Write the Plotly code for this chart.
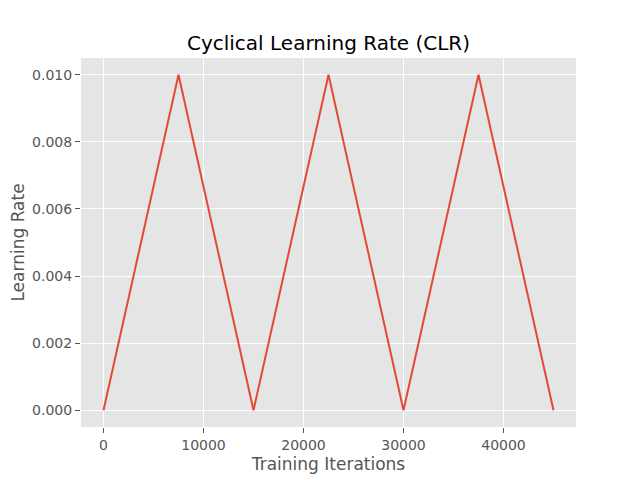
# triangular cyclical learning rate schedule

import plotly.graph_objects as go

iterations = [0, 7500, 15000, 22500, 30000, 37500, 45000]
learning_rate = [0.0, 0.01, 0.0, 0.01, 0.0, 0.01, 0.0]

x_ticks = [0, 10000, 20000, 30000, 40000]
y_ticks = [0.000, 0.002, 0.004, 0.006, 0.008, 0.010]

font = "DejaVu Sans"
grey = "#555555"

fig = go.Figure()
fig.add_trace(go.Scatter(
    x=iterations,
    y=learning_rate,
    mode="lines",
    line=dict(color="#E24A33", width=2),
    showlegend=False
))

axis_style = dict(
    automargin=False,
    showgrid=True,
    gridcolor="white",
    gridwidth=1,
    zeroline=False,
    showline=False,
    ticks="outside",
    ticklen=5,
    tickwidth=1,
    tickcolor=grey,
    tickfont=dict(family=font, size=14, color=grey),
    title_font=dict(family=font, size=17, color=grey),
)

# page body has an 8px default margin, so the figure is 8px smaller
fig.update_layout(
    width=632,
    height=472,
    paper_bgcolor="white",
    plot_bgcolor="#E5E5E5",
    margin=dict(l=73, r=64, t=50, b=53),
    title=dict(
        text="Cyclical Learning Rate (CLR)",
        font=dict(family=font, size=20, color="black"),
        xref="paper", x=0.5, xanchor="center",
        y=1 - 35 / 472, yanchor="middle"
    ),
    xaxis=dict(
        axis_style,
        title=dict(text="Training Iterations", standoff=6),
        range=[-2250, 47250],
        tickvals=x_ticks,
        ticktext=[str(v) for v in x_ticks],
    ),
    yaxis=dict(
        axis_style,
        title=dict(text="Learning Rate", standoff=9),
        range=[-0.0005, 0.0105],
        tickvals=y_ticks,
        ticktext=["%.3f" % v for v in y_ticks],
    ),
)

fig.write_html("out.html")
